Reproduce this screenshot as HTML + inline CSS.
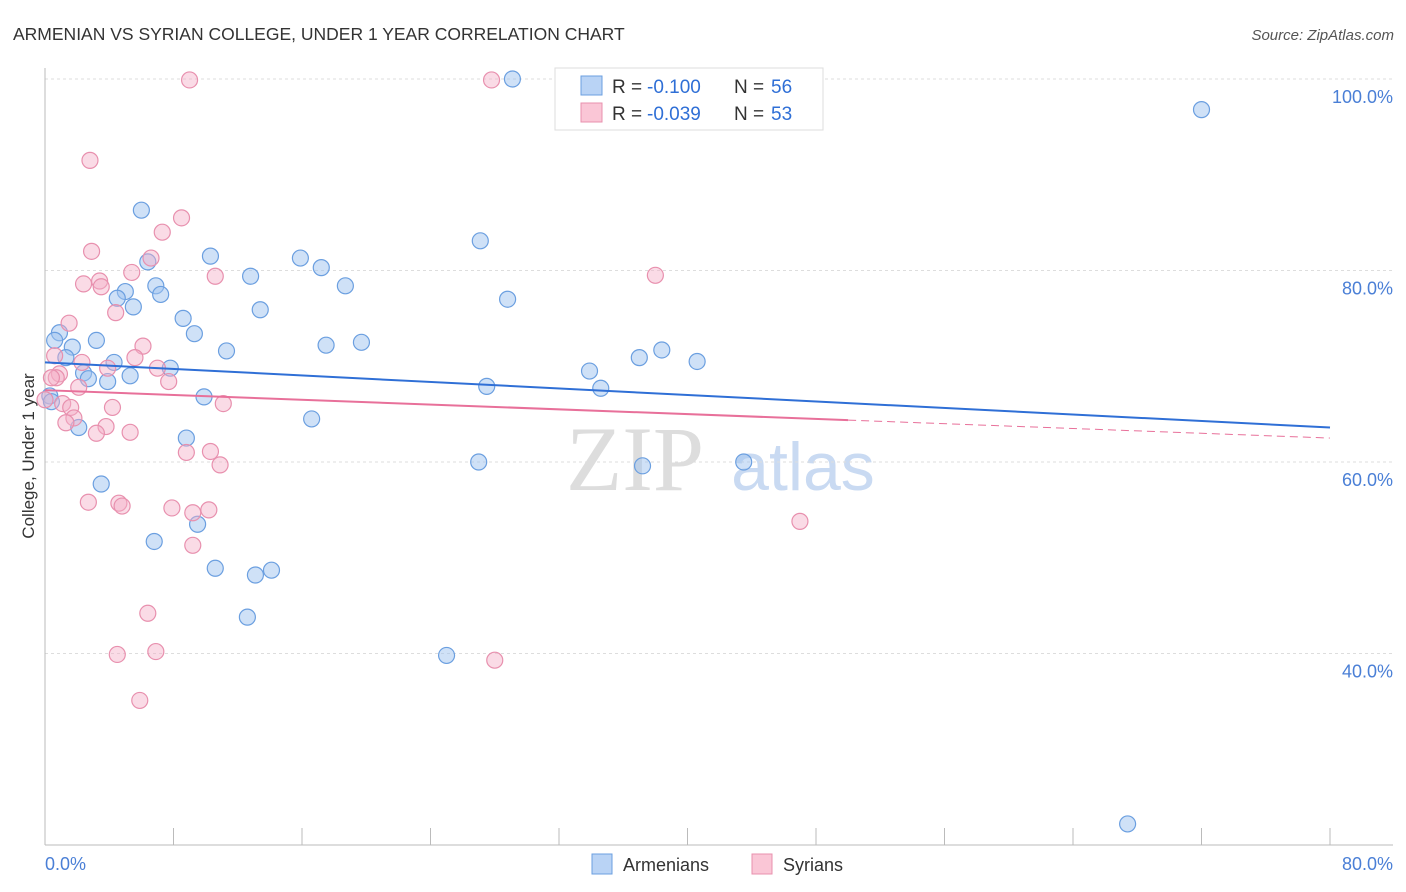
<!DOCTYPE html>
<html><head><meta charset="utf-8">
<style>
body{margin:0;background:#fff;font-family:"Liberation Sans",sans-serif;}
svg{display:block}
</style></head>
<body>
<svg width="1406" height="892" viewBox="0 0 1406 892">
<text x="13" y="40" font-size="17.5" fill="#333">ARMENIAN VS SYRIAN COLLEGE, UNDER 1 YEAR CORRELATION CHART</text>
<text x="1394" y="40" font-size="15" fill="#555" font-style="italic" text-anchor="end">Source: ZipAtlas.com</text>
<g>
<text x="635" y="490" font-size="92" font-family="Liberation Serif,serif" fill="#ddd" text-anchor="middle">ZIP</text>
<text x="803" y="490" font-size="68" fill="#c9daf2" text-anchor="middle">atlas</text>
</g>
<g id="grid"></g>
<g id="axes"></g>
<g id="pts"></g>
<g id="trend"></g>
<text x="34" y="456" font-size="17" fill="#333" text-anchor="middle" transform="rotate(-90 34 456)">College, Under 1 year</text>
<text x="45" y="870" font-size="18" fill="#4a7fd6">0.0%</text>
<text x="1393" y="870" font-size="18" fill="#4a7fd6" text-anchor="end">80.0%</text>
<g>
<rect x="555" y="68" width="268" height="62" fill="#fff" stroke="#ddd"/>
<rect x="581" y="76" width="21" height="19" fill="#b9d3f5" stroke="#6b9fe0"/>
<rect x="581" y="103" width="21" height="19" fill="#fac6d6" stroke="#e890ae"/>
<text x="612" y="93" font-size="19" fill="#333">R =</text>
<text x="647" y="93" font-size="19" fill="#2f6fd6">-0.100</text>
<text x="734" y="93" font-size="19" fill="#333">N =</text>
<text x="771" y="93" font-size="19" fill="#2f6fd6">56</text>
<text x="612" y="120" font-size="19" fill="#333">R =</text>
<text x="647" y="120" font-size="19" fill="#2f6fd6">-0.039</text>
<text x="734" y="120" font-size="19" fill="#333">N =</text>
<text x="771" y="120" font-size="19" fill="#2f6fd6">53</text>
</g>
<g>
<rect x="592" y="854" width="20" height="20" fill="#b9d3f5" stroke="#6b9fe0"/>
<text x="623" y="871" font-size="18" fill="#333">Armenians</text>
<rect x="752" y="854" width="20" height="20" fill="#fac6d6" stroke="#e890ae"/>
<text x="783" y="871" font-size="18" fill="#333">Syrians</text>
</g>
</svg>
<script>
const yTicks=[40,60,80,100];
const xTicks=[0,8,16,24,32,40,48,56,64,72,80];
const armX=[29.1,72.0,6.0,27.1,10.3,15.9,6.4,17.2,12.8,18.7,6.9,5.0,7.2,4.5,28.8,5.5,13.4,8.6,0.9,9.3,0.6,3.2,1.7,17.5,19.7,11.3,1.3,4.3,7.8,33.9,37.0,38.4,40.6,2.4,5.3,2.7,3.9,27.5,34.6,9.9,0.3,0.4,16.6,2.1,8.8,27.0,37.2,43.5,3.5,9.5,6.8,10.6,13.1,14.1,12.6,25.0,67.4];
const armY=[100.0,96.8,86.3,83.1,81.5,81.3,80.9,80.3,79.4,78.4,78.4,77.8,77.5,77.1,77.0,76.2,75.9,75.0,73.5,73.4,72.7,72.7,72.0,72.2,72.5,71.6,70.9,70.4,69.8,69.5,70.9,71.7,70.5,69.3,69.0,68.7,68.4,67.9,67.7,66.8,66.9,66.3,64.5,63.6,62.5,60.0,59.6,60.0,57.7,53.5,51.7,48.9,48.2,48.7,43.8,39.8,22.2];
const syrX=[9.0,27.8,2.8,8.5,7.3,2.9,6.6,5.4,10.6,38.0,2.4,3.4,3.5,4.4,1.5,6.1,0.6,5.6,2.3,3.9,7.0,0.9,0.7,2.1,7.7,0.4,1.1,1.6,4.2,11.1,1.8,1.3,3.8,3.2,5.3,8.8,10.3,10.9,2.7,4.6,4.8,7.9,10.2,9.2,9.2,47.0,6.4,4.5,6.9,28.0,5.9,0.0];
const syrY=[99.9,99.9,91.5,85.5,84.0,82.0,81.3,79.8,79.4,79.5,78.6,78.9,78.3,75.6,74.5,72.1,71.1,70.9,70.4,69.8,69.8,69.2,68.8,67.8,68.4,68.8,66.1,65.7,65.7,66.1,64.6,64.1,63.7,63.0,63.1,61.0,61.1,59.7,55.8,55.7,55.4,55.2,55.0,54.7,51.3,53.8,44.2,39.9,40.2,39.3,35.1,66.5];
const armTrend=[70.4,63.6];
const syrTrend=[67.5,62.5];
const NS='http://www.w3.org/2000/svg';
const X=v=>45+v/80*1285;
const Y=v=>79+(100-v)/20*191.5;
function mk(p,t,a){const e=document.createElementNS(NS,t);for(const k in a)e.setAttribute(k,a[k]);p.appendChild(e);return e;}
const grid=document.getElementById('grid'),axes=document.getElementById('axes');
yTicks.forEach(t=>{
 const l=mk(grid,'line',{x1:45,x2:1393,y1:Y(t),y2:Y(t),stroke:'#ddd','stroke-dasharray':'3,3'});
 
 
 const tx=mk(grid,'text',{x:1393,y:Y(t)+24,'font-size':18,fill:'#4a7fd6','text-anchor':'end'});
 tx.textContent=t.toFixed(1)+'%';
 
 
});
mk(axes,'line',{x1:45,x2:45,y1:68,y2:845,stroke:'#bbb'});
mk(axes,'line',{x1:45,x2:1393,y1:845,y2:845,stroke:'#bbb'});
xTicks.forEach(t=>{
 const l=mk(axes,'line',{x1:X(t),x2:X(t),y1:828,y2:845,stroke:'#bbb'});
 
 
});
const pts=document.getElementById('pts');
armX.forEach((x,i)=>{
 const c=mk(pts,'circle',{cx:X(x),cy:Y(armY[i]),r:8,fill:'rgba(160,195,240,0.5)',stroke:'#6b9fe0','stroke-width':1.2});
 
 
});
syrX.forEach((x,i)=>{
 const c=mk(pts,'circle',{cx:X(x),cy:Y(syrY[i]),r:8,fill:'rgba(245,175,200,0.45)',stroke:'#e890ae','stroke-width':1.2});
 
 
});
const tr=document.getElementById('trend');
const a=mk(tr,'line',{x1:X(0),y1:Y(armTrend[0]),x2:X(80),y2:Y(armTrend[1]),stroke:'#2f6fd6','stroke-width':2});


const sAt=v=>syrTrend[0]+(syrTrend[1]-syrTrend[0])*v/80;
const s1=mk(tr,'line',{x1:X(0),y1:Y(sAt(0)),x2:X(50),y2:Y(sAt(50)),stroke:'#e8709a','stroke-width':2});


const s2=mk(tr,'line',{x1:X(50),y1:Y(sAt(50)),x2:X(80),y2:Y(sAt(80)),stroke:'#e8709a','stroke-width':1,'stroke-dasharray':'8,5'});


</script>
</body></html>
